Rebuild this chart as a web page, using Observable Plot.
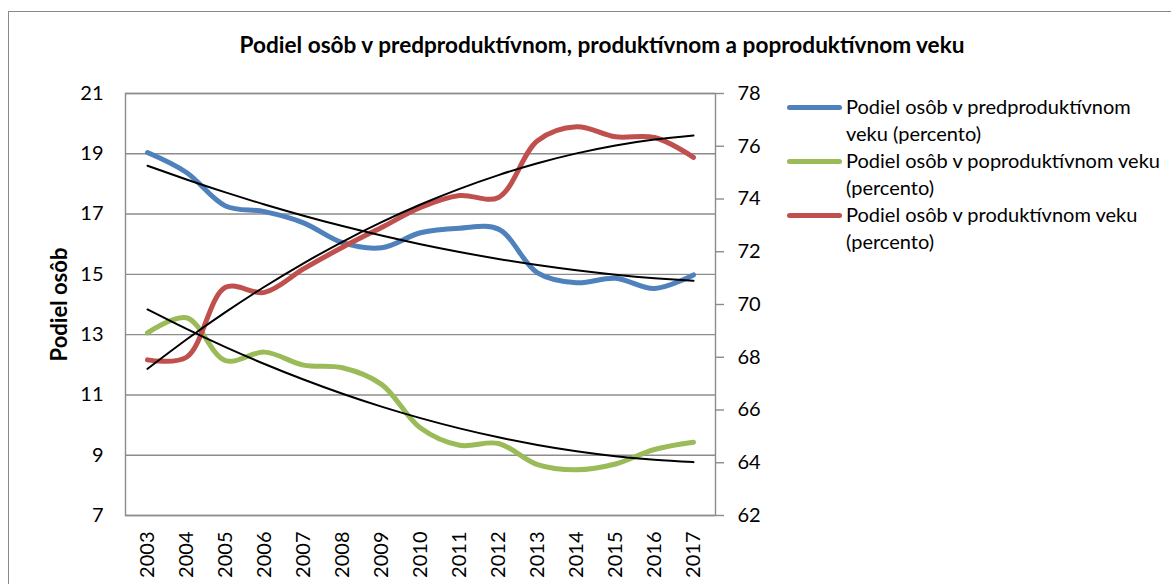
<!DOCTYPE html>
<html><head><meta charset="utf-8">
<script src="https://cdn.jsdelivr.net/npm/d3@7"></script>
<script src="https://cdn.jsdelivr.net/npm/@observablehq/plot@0.6"></script>
<style>
body{margin:0;background:#fff;font-family:Lato,"Open Sans",sans-serif;}
#wrap{position:relative;width:1171px;height:584px;overflow:hidden;}
#frame{position:absolute;left:8px;top:11px;width:1250px;height:650px;border:1.5px solid #8a8a8a;box-sizing:border-box;}
#title{position:absolute;left:0;width:1204px;top:31px;text-align:center;font-weight:bold;font-size:22.6px;color:#000;white-space:nowrap;}
#chart{position:absolute;left:0;top:0;}
#legend{position:absolute;left:787px;top:93px;width:382px;font-size:20px;line-height:27px;color:#000;}
.item{position:relative;padding-left:59px;}
.sw{position:absolute;left:0;top:12px;width:55px;height:5px;border-radius:3px;}
</style></head>
<body><div id="wrap"><div id="frame"></div><div id="chart"></div><div id="title"></div><div id="legend"></div></div>
<script>
const years = [2003,2004,2005,2006,2007,2008,2009,2010,2011,2012,2013,2014,2015,2016,2017];
const predprod = [19.04,18.38,17.27,17.08,16.71,16.05,15.88,16.38,16.53,16.50,15.05,14.72,14.87,14.53,14.98];
const poprod   = [13.06,13.56,12.14,12.42,11.99,11.90,11.35,9.90,9.33,9.39,8.69,8.52,8.71,9.19,9.43];
const prod     = [67.90,68.00,70.65,70.46,71.35,72.17,72.92,73.68,74.13,74.06,76.21,76.74,76.36,76.33,75.58];
const leftTicks = [7,9,11,13,15,17,19,21];
const rightTicks = [62,64,66,68,70,72,74,76,78];
const seriesNames = ["Podiel osôb v predproduktívnom veku (percento)","Podiel osôb v poproduktívnom veku (percento)","Podiel osôb v produktívnom veku (percento)"];
const seriesColors = ["#4F81BD","#9BBB59","#C0504D"];
const titleText = "Podiel osôb v predproduktívnom, produktívnom a poproduktívnom veku";
const yLabel = "Podiel osôb";

// right axis (62–78) mapped onto left axis (7–21)
const toLeft = v => 7 + (v - 62) * 14 / 16;
const fromLeft = v => 62 + (v - 7) * 16 / 14;

// Excel-style polynomial (order 2) trendline
function quadFit(ys) {
  const xs = ys.map((_, i) => i + 1);
  let S = [0,0,0,0,0], T = [0,0,0];
  xs.forEach((x, i) => { for (let k = 0; k < 5; k++) S[k] += x ** k; for (let k = 0; k < 3; k++) T[k] += ys[i] * x ** k; });
  const A = [[S[0],S[1],S[2],T[0]],[S[1],S[2],S[3],T[1]],[S[2],S[3],S[4],T[2]]];
  for (let c = 0; c < 3; c++) { for (let r = c + 1; r < 3; r++) { const f = A[r][c] / A[c][c]; for (let k = c; k < 4; k++) A[r][k] -= f * A[c][k]; } }
  const b = [0,0,0];
  for (let r = 2; r >= 0; r--) { let s = A[r][3]; for (let k = r + 1; k < 3; k++) s -= A[r][k] * b[k]; b[r] = s / A[r][r]; }
  return xs.map(x => b[0] + b[1] * x + b[2] * x * x);
}

const series = [predprod, poprod, prod.map(toLeft)];
const rows = [];
const trendRows = [];
series.forEach((vals, s) => {
  const tr = quadFit(vals);
  years.forEach((yr, i) => {
    rows.push({year: yr, value: vals[i], s});
    trendRows.push({year: yr, value: tr[i], s});
  });
});

const chart = Plot.plot({
  width: 1171, height: 584,
  marginLeft: 125, marginRight: 456, marginTop: 93, marginBottom: 69,
  style: {fontFamily: "Lato, 'Open Sans', sans-serif", fontSize: "20px", color: "#000", background: "transparent"},
  x: {type: "point", domain: years, padding: 0.5},
  y: {domain: [7, 21]},
  marks: [
    Plot.gridY(leftTicks, {stroke: "#8c8c8c", strokeOpacity: 1, strokeWidth: 1.4}),
    Plot.frame({stroke: "#8c8c8c", strokeWidth: 1.4}),
    Plot.axisY(leftTicks, {anchor: "left", tickSize: 0, tickPadding: 22, tickFormat: d => String(d), label: null}),
    Plot.axisY(rightTicks.map(toLeft), {anchor: "right", tickSize: 8, tickPadding: 14, stroke: "#8c8c8c", strokeWidth: 1.4, fill: "#000", tickFormat: d => String(Math.round(fromLeft(d))), label: null}),
    Plot.axisX(years, {tickRotate: -90, tickSize: 0, tickPadding: 16, tickFormat: d => String(d), label: null}),
    Plot.text([yLabel], {frameAnchor: "left", dx: -66, rotate: -90, textAnchor: "middle", fontWeight: "bold", fontSize: 22, text: d => d}),
    ...[0,1,2].map(s => Plot.line(rows.filter(r => r.s === s), {x: "year", y: "value", stroke: seriesColors[s], strokeWidth: 5, strokeLinecap: "round", curve: "catmull-rom"})),
    ...[0,1,2].map(s => Plot.line(trendRows.filter(r => r.s === s), {x: "year", y: "value", stroke: "#000", strokeWidth: 2, curve: "natural"}))
  ]
});
document.getElementById("chart").append(chart);
document.getElementById("title").textContent = titleText;
const leg = document.getElementById("legend");
seriesNames.forEach((n, i) => {
  const d = document.createElement("div"); d.className = "item";
  const sw = document.createElement("span"); sw.className = "sw"; sw.style.background = seriesColors[i];
  d.append(sw, document.createTextNode(n)); leg.append(d);
});
</script></body></html>
